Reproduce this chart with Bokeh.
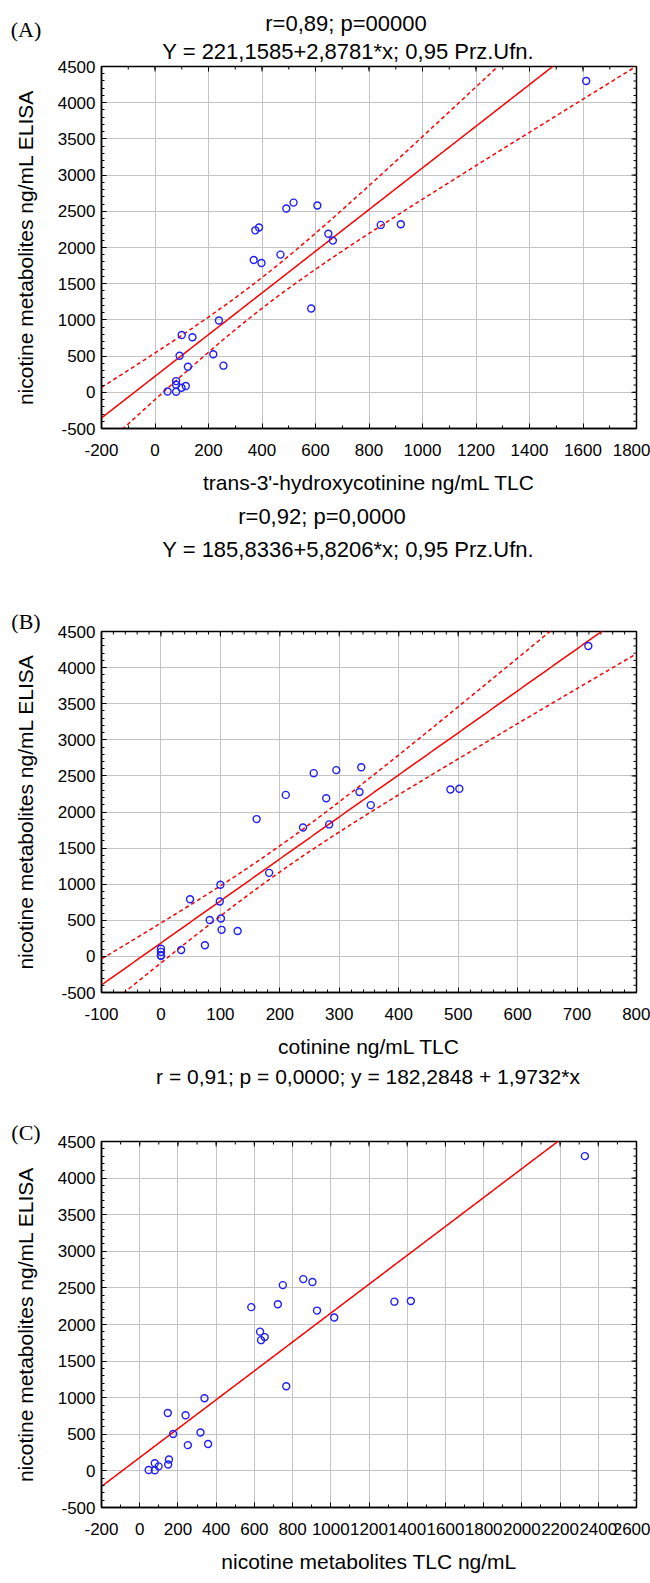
import html
import numpy as np
from bokeh.plotting import figure
from bokeh.models import Range1d, SingleIntervalTicker, PrintfTickFormatter, Div
from bokeh.layouts import column
from bokeh.embed import file_html
from bokeh.resources import INLINE

# ---- data (one entry per sample) ----
elisa = [4300, 2322, 2312, 2620, 2580, 2538, 2277, 2237, 2190, 2095, 1902, 1828, 1786,
         1157, 992, 792, 760, 505, 525, 368, 352, 155, 105, 88, 62, 12, 8]
hydroxycotinine_tlc = [1612, 919, 844, 518, 607, 491, 389, 375, 648, 665, 469, 369, 398,
                       584, 239, 100, 140, 92, 218, 256, 123, 79, 79, 115, 99, 47, 79]
cotinine_tlc = [719, 502, 487, 337, 295, 257, 334, 210, 278, 353, 161, 283, 239,
                182, 100, 49, 99, 82, 101, 102, 129, 74, 0, 34, 0, 0, 0]
metabolites_tlc = [2330, 1419, 1333, 856, 904, 749, 723, 584, 928, 1018, 630, 654, 635,
                   767, 339, 147, 240, 175, 318, 358, 252, 153, 79, 149, 99, 47, 79]

# regression coefficients as printed on the chart
fit_a = (221.1585, 2.8781)
fit_b = (185.8336, 5.8206)
fit_c = (182.2848, 1.9732)
T_975 = 2.06  # Student t, 0.975, df = 25

titles_a = ["r=0,89; p=00000", "Y = 221,1585+2,8781*x; 0,95 Prz.Ufn."]
titles_b = ["r=0,92; p=0,0000", "Y = 185,8336+5,8206*x; 0,95 Prz.Ufn."]
titles_c = ["r = 0,91; p = 0,0000;  y = 182,2848 + 1,9732*x"]
tags = ["(A)", "(B)", "(C)"]
xlabel_a = "trans-3'-hydroxycotinine ng/mL TLC"
xlabel_b = "cotinine ng/mL TLC"
xlabel_c = "nicotine metabolites TLC ng/mL"
ylabel = "nicotine metabolites ng/mL ELISA"

SANS = "Liberation Sans"
SERIF = "Liberation Serif"
RED = "#ff0000"
BLUE = "#1f1fff"
W = 650


def header(h, items):
    parts = []
    for txt, cx, baseline, font, size in items:
        asc, desc = (0.891, 0.216) if font == SERIF else (0.905, 0.212)
        top = baseline - ((size - (asc + desc) * size) / 2 + asc * size)
        parts.append(
            f'<div style="position:absolute;left:{cx - 320}px;top:{top:.1f}px;width:640px;'
            f"text-align:center;font-family:'{font}';font-size:{size}px;line-height:{size}px;"
            f'white-space:nowrap;color:#000;">{html.escape(txt)}</div>')
    inner = (f'<div style="position:relative;width:{W}px;height:{h}px;overflow:visible;">'
             + "".join(parts) + "</div>")
    return Div(text=inner, width=W, height=h, margin=0, styles={"overflow": "visible"})


def style_axis(ax):
    ax.major_tick_in = 5
    ax.major_tick_out = 0
    ax.minor_tick_in = 3
    ax.minor_tick_out = 0
    ax.axis_line_color = "black"
    ax.axis_line_width = 1.5
    ax.major_tick_line_color = "black"
    ax.minor_tick_line_color = "black"
    ax.major_label_text_font = SANS
    ax.major_label_text_font_size = "17px"
    ax.major_label_text_color = "black"
    ax.formatter = PrintfTickFormatter(format="%d")
    ax.axis_label_text_font = SANS
    ax.axis_label_text_font_size = "21px"
    ax.axis_label_text_font_style = "normal"
    ax.axis_label_text_color = "black"


def make_panel(xs, ys, xr, xstep, xminor, height, top, bottom, fit, bands, xlabel):
    p = figure(width=W, height=height, title=None,
               x_range=Range1d(*xr), y_range=Range1d(-500, 4500),
               output_backend="svg", toolbar_location=None,
               min_border_left=101, min_border_right=14,
               min_border_top=top, min_border_bottom=bottom)
    p.background_fill_color = "white"
    p.border_fill_color = None
    p.outline_line_color = "black"
    p.outline_line_width = 1.5

    xt = SingleIntervalTicker(interval=xstep, num_minor_ticks=xminor)
    yt = SingleIntervalTicker(interval=500, num_minor_ticks=5)
    p.xaxis[0].ticker = xt
    p.yaxis[0].ticker = yt
    p.xgrid[0].ticker = xt
    p.ygrid[0].ticker = yt
    for g in (p.xgrid[0], p.ygrid[0]):
        g.grid_line_color = "#c4c4c4"
        g.grid_line_width = 1

    style_axis(p.xaxis[0])
    style_axis(p.yaxis[0])
    p.xaxis[0].major_label_standoff = 15
    p.yaxis[0].major_label_standoff = 6
    p.xaxis[0].axis_label = xlabel
    p.yaxis[0].axis_label = ylabel
    p.xaxis[0].axis_label_standoff = 12
    p.yaxis[0].axis_label_standoff = 18

    # inward ticks on the right and top edges of the frame
    ymaj = np.arange(-500, 4500 + 1, 500)
    ymin = np.arange(-500, 4500 + 1, 100)
    xmaj = np.arange(xr[0], xr[1] + 1, xstep)
    xmin = np.arange(xr[0], xr[1] + 1, xstep / xminor)
    p.ray(x=[xr[1]] * len(ymaj), y=ymaj, length=5, length_units="screen",
          angle=np.pi, line_color="black", line_width=1)
    p.ray(x=[xr[1]] * len(ymin), y=ymin, length=3, length_units="screen",
          angle=np.pi, line_color="black", line_width=1)
    p.ray(x=xmaj, y=[4500] * len(xmaj), length=5, length_units="screen",
          angle=-np.pi / 2, line_color="black", line_width=1)
    p.ray(x=xmin, y=[4500] * len(xmin), length=3, length_units="screen",
          angle=-np.pi / 2, line_color="black", line_width=1)

    x = np.array(xs, dtype=float)
    y = np.array(ys, dtype=float)
    b0, b1 = fit
    gx = np.linspace(xr[0], xr[1], 300)
    p.line(gx, b0 + b1 * gx, line_color=RED, line_width=1.5)
    if bands:
        n = len(x)
        resid = y - (b0 + b1 * x)
        s = np.sqrt(np.sum(resid ** 2) / (n - 2))
        sxx = np.sum((x - x.mean()) ** 2)
        half = T_975 * s * np.sqrt(1.0 / n + (gx - x.mean()) ** 2 / sxx)
        for sign in (1, -1):
            p.line(gx, b0 + b1 * gx + sign * half, line_color=RED,
                   line_width=1.5, line_dash="4 3")

    p.scatter(x, y, marker="circle", size=7, fill_color=None,
              line_color=BLUE, line_width=1.4)
    return p


ha = header(54, [(tags[0], 26, 37, SERIF, 22),
                 (titles_a[0], 346, 31.5, SANS, 22),
                 (titles_a[1], 348, 60, SANS, 22)])
pa = make_panel(hydroxycotinine_tlc, elisa, (-200, 1800), 200, 2, 446, 12, 72, fit_a, True, xlabel_a)

hb = header(120, [(titles_b[0], 322, 24.5, SANS, 22),
                  (titles_b[1], 348, 58, SANS, 22),
                  (tags[1], 26, 129, SERIF, 22)])
pb = make_panel(cotinine_tlc, elisa, (-100, 800), 100, 5, 443, 11, 71, fit_b, True, xlabel_b)

hc = header(67, [(titles_c[0], 368, 20.5, SANS, 21),
                 (tags[2], 26, 77, SERIF, 22)])
pc = make_panel(metabolites_tlc, elisa, (-200, 2600), 200, 2, 445, 11, 63, fit_c, False, xlabel_c)

layout = column(ha, pa, hb, pb, hc, pc, spacing=0)
open("out.html", "w").write(file_html(layout, INLINE))
